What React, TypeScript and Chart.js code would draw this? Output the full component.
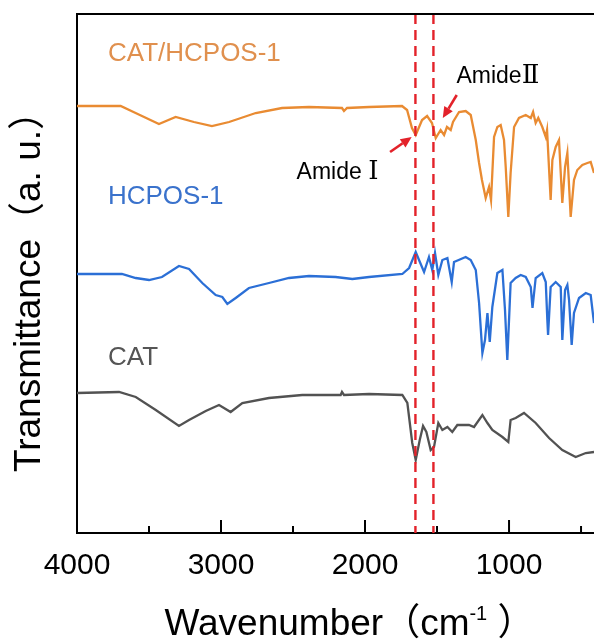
import React, { useEffect, useRef } from "react";
import { Chart, registerables } from "chart.js";

Chart.register(...registerables);

const FONT = '"Liberation Sans", Arial, "Noto Sans CJK SC", sans-serif';
const NUMERAL_FONT = '"DejaVu Serif", "Noto Sans CJK SC", serif';

// ---- data (wavenumber in cm-1, transmittance in arbitrary units) ----
const seriesNames = ["CAT/HCPOS-1", "HCPOS-1", "CAT"];
const seriesColors = ["#E98B32", "#2B6FD6", "#525252"];
const labelColors = ["#E0904E", "#3A72CC", "#555555"];

const compositeWavenumber = [
  4000, 3697, 3593, 3431, 3315, 3188, 3063, 2944, 2759, 2576, 2389, 2160, 2146, 2125, 1972, 1743,
  1708, 1674, 1648, 1604, 1569, 1535, 1509, 1475, 1451, 1431, 1405, 1389, 1347, 1301, 1266, 1231,
  1208, 1188, 1162, 1139, 1125, 1104, 1081, 1058, 1035, 1023, 1005, 989, 965, 931, 884, 849, 833,
  815, 797, 769, 745, 736, 711, 699, 676, 653, 630, 611, 595, 572, 549, 526, 491, 456, 433, 410,
];
const compositeT = [
  427, 427, 420, 409, 416, 411, 407, 411, 420, 425, 426, 425, 422, 425, 426, 427,
  423, 405, 398, 413, 417, 410, 395, 403, 398, 406, 403, 411, 421, 422, 418, 393,
  370, 353, 335, 346, 333, 396, 406, 408, 393, 366, 316, 360, 406, 415, 418, 415, 421,
  410, 415, 406, 396, 403, 333, 373, 386, 393, 330, 366, 380, 316, 353, 363, 368, 370, 371, 360,
];

const hcposWavenumber = [
  4000, 3688, 3592, 3500, 3410, 3292, 3222, 3130, 3037, 2991, 2956, 2898, 2806, 2667, 2528, 2389,
  2204, 2088, 1972, 1741, 1694, 1648, 1625, 1590, 1556, 1533, 1514, 1491, 1463, 1428, 1398, 1382,
  1301, 1266, 1231, 1208, 1185, 1167, 1150, 1134, 1116, 1081, 1046, 1028, 1012, 989, 954, 919, 884,
  849, 837, 815, 769, 745, 734, 729, 711, 676, 641, 630, 611, 595, 583, 565, 549, 514, 467, 433, 410,
];
const hcposT = [
  259, 259, 255, 253, 256, 267, 264, 250, 238, 236, 229, 235, 245, 250, 255, 257,
  256, 254, 256, 259, 265, 281, 273, 261, 276, 263, 280, 258, 273, 275, 251, 271,
  276, 273, 263, 230, 180, 193, 220, 191, 226, 260, 263, 223, 173, 250, 255, 258, 256,
  246, 225, 255, 260, 251, 213, 198, 246, 251, 246, 193, 243, 248, 233, 188, 220, 235, 240, 238, 210,
];

const catWavenumber = [
  4000, 3708, 3592, 3453, 3292, 3222, 3106, 3014, 2991, 2933, 2852, 2667, 2436, 2169, 2160, 2146,
  1972, 1741, 1706, 1672, 1648, 1620, 1597, 1574, 1544, 1521, 1491, 1463, 1428, 1394, 1359, 1278,
  1243, 1185, 1150, 1116, 1046, 1005, 989, 954, 896, 815, 722, 630, 537, 467, 410,
];
const catT = [
  140, 141, 136, 123, 107, 113, 122, 128, 126, 121, 130, 135, 138, 138, 141, 138,
  139, 138, 130, 90, 73, 93, 107, 101, 83, 86, 110, 103, 106, 101, 108, 108,
  106, 118, 110, 103, 96, 91, 113, 115, 120, 110, 95, 83, 76, 80, 81,
];

const xMajorTicks = [4000, 3000, 2000, 1000];
const xMinorTicks = [3500, 2500, 1500, 500];
const amideLines = [1650, 1525];
const X_MIN = 410;
const X_MAX = 4000;
const Y_MIN = 0;
const Y_MAX = 519;

const decorPlugin = {
  id: "decor",
  afterDatasetsDraw(chart: any) {
    const { ctx, chartArea: a, scales } = chart;
    const x = scales.x;
    const y = scales.y;
    ctx.save();

    // red dashed marker lines
    ctx.strokeStyle = "#E3222A";
    ctx.lineWidth = 2.4;
    ctx.setLineDash([10, 6]);
    amideLines.forEach((v) => {
      const px = x.getPixelForValue(v);
      ctx.beginPath();
      ctx.moveTo(px, a.top);
      ctx.lineTo(px, a.bottom);
      ctx.stroke();
    });
    ctx.setLineDash([]);

    // top frame line
    ctx.strokeStyle = "#000";
    ctx.lineWidth = 2;
    ctx.beginPath();
    ctx.moveTo(a.left - 1, a.top);
    ctx.lineTo(a.right, a.top);
    ctx.stroke();

    // inward ticks
    ctx.lineWidth = 2;
    xMajorTicks.forEach((v) => {
      const px = x.getPixelForValue(v);
      ctx.beginPath();
      ctx.moveTo(px, a.bottom);
      ctx.lineTo(px, a.bottom - 13);
      ctx.stroke();
    });
    xMinorTicks.forEach((v) => {
      const px = x.getPixelForValue(v);
      ctx.beginPath();
      ctx.moveTo(px, a.bottom);
      ctx.lineTo(px, a.bottom - 7);
      ctx.stroke();
    });

    // series labels
    ctx.font = `26px ${FONT}`;
    ctx.textAlign = "left";
    ctx.textBaseline = "middle";
    const labelY = [479, 336, 175];
    seriesNames.forEach((n, i) => {
      ctx.fillStyle = labelColors[i];
      ctx.fillText(n, x.getPixelForValue(3785), y.getPixelForValue(labelY[i]));
    });

    // amide annotations (word + roman numeral)
    ctx.fillStyle = "#000";
    ctx.textBaseline = "alphabetic";
    const amide = (word: string, numeral: string, wn: number, val: number) => {
      const px = x.getPixelForValue(wn);
      const base = y.getPixelForValue(val) + 8;
      ctx.font = `23px ${FONT}`;
      ctx.fillText(word, px, base);
      const w = ctx.measureText(word).width;
      ctx.font = `26px ${NUMERAL_FONT}`;
      ctx.fillText(numeral, px + w, base);
    };
    amide("Amide ", "Ⅰ", 2475, 362);
    amide("Amide", "Ⅱ", 1365, 458);

    const arrow = (x1: number, y1: number, x2: number, y2: number) => {
      const ang = Math.atan2(y2 - y1, x2 - x1);
      const hl = 11;
      const hw = 5;
      const bx = x2 - hl * Math.cos(ang);
      const by = y2 - hl * Math.sin(ang);
      ctx.strokeStyle = "#E3222A";
      ctx.fillStyle = "#E3222A";
      ctx.lineWidth = 2.6;
      ctx.beginPath();
      ctx.moveTo(x1, y1);
      ctx.lineTo(bx, by);
      ctx.stroke();
      ctx.beginPath();
      ctx.moveTo(x2, y2);
      ctx.lineTo(bx + hw * Math.sin(ang), by - hw * Math.cos(ang));
      ctx.lineTo(bx - hw * Math.sin(ang), by + hw * Math.cos(ang));
      ctx.closePath();
      ctx.fill();
    };
    arrow(x.getPixelForValue(1826), y.getPixelForValue(381), x.getPixelForValue(1676), y.getPixelForValue(396));
    arrow(x.getPixelForValue(1363), y.getPixelForValue(438), x.getPixelForValue(1460), y.getPixelForValue(415));

    // y title
    ctx.fillStyle = "#000";
    ctx.font = `37px ${FONT}`;
    ctx.save();
    ctx.translate(30, (a.top + a.bottom) / 2 + 9);
    ctx.rotate(-Math.PI / 2);
    ctx.textAlign = "center";
    ctx.textBaseline = "middle";
    ctx.fillText("Transmittance（a. u.）", 0, 0);
    ctx.restore();

    // x title with superscript
    const p1 = "Wavenumber（cm";
    const sup = "-1";
    const p3 = " ）";
    ctx.font = `37px ${FONT}`;
    const w1 = ctx.measureText(p1).width;
    const w3 = ctx.measureText(p3).width;
    ctx.font = `20px ${FONT}`;
    const w2 = ctx.measureText(sup).width;
    const cx = (a.left + a.right) / 2 + 14;
    let sx = cx - (w1 + w2 + w3) / 2;
    const base = 635;
    ctx.textAlign = "left";
    ctx.textBaseline = "alphabetic";
    ctx.font = `37px ${FONT}`;
    ctx.fillText(p1, sx, base);
    sx += w1;
    ctx.font = `20px ${FONT}`;
    ctx.fillText(sup, sx, base - 15);
    sx += w2;
    ctx.font = `37px ${FONT}`;
    ctx.fillText(p3, sx, base);

    ctx.restore();
  },
};

export default function App() {
  const ref = useRef<HTMLCanvasElement | null>(null);

  useEffect(() => {
    document.body.style.margin = "0";
    const canvas = ref.current;
    if (!canvas) return;
    const make = (wn: number[], t: number[]) => wn.map((w, i) => ({ x: w, y: t[i] }));
    const chart = new Chart(canvas, {
      type: "line",
      data: {
        datasets: [
          { label: seriesNames[0], data: make(compositeWavenumber, compositeT), borderColor: seriesColors[0] },
          { label: seriesNames[1], data: make(hcposWavenumber, hcposT), borderColor: seriesColors[1] },
          { label: seriesNames[2], data: make(catWavenumber, catT), borderColor: seriesColors[2] },
        ].map((d) => ({ ...d, borderWidth: 2.3, pointRadius: 0, tension: 0, fill: false })),
      },
      options: {
        responsive: false,
        animation: false,
        layout: { padding: { top: 14, left: 0, right: 0, bottom: 0 } },
        plugins: { legend: { display: false }, tooltip: { enabled: false } },
        scales: {
          x: {
            type: "linear",
            reverse: true,
            min: X_MIN,
            max: X_MAX,
            afterBuildTicks: (s: any) => {
              s.ticks = xMajorTicks.map((v) => ({ value: v }));
            },
            afterFit: (s: any) => {
              s.height = 111;
            },
            grid: { display: false, drawTicks: false },
            border: { display: true, color: "#000", width: 2 },
            ticks: {
              color: "#000",
              font: { size: 30, family: FONT },
              padding: 15,
              maxRotation: 0,
              autoSkip: false,
              callback: (v: any) => String(v),
            },
          },
          y: {
            type: "linear",
            min: Y_MIN,
            max: Y_MAX,
            afterFit: (s: any) => {
              s.width = 77;
            },
            grid: { display: false, drawTicks: false },
            border: { display: true, color: "#000", width: 2 },
            ticks: { display: false },
          },
        },
      },
      plugins: [decorPlugin],
    });
    return () => chart.destroy();
  }, []);

  return (
    <div style={{ width: 594, height: 644, background: "#fff" }}>
      <canvas ref={ref} width={594} height={644} style={{ display: "block" }} />
    </div>
  );
}
